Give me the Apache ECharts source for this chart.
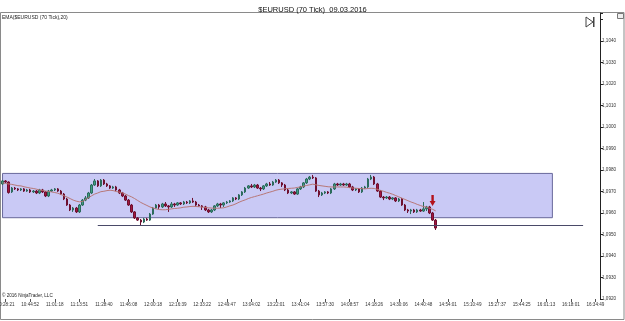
<!DOCTYPE html>
<html>
<head>
<meta charset="utf-8">
<script src="https://cdn.jsdelivr.net/npm/echarts@6/dist/echarts.min.js"></script>
<style>
html,body{margin:0;padding:0;background:#fff;}
#chart{width:625px;height:321px;}
</style>
</head>
<body>
<div id="chart"></div>
<script>
const titleText = '$EURUSD (70 Tick)  09.03.2016';
const indicatorText = 'EMA($EURUSD (70 Tick),20)';
const copyrightText = '\u00A9 2016 NinjaTrader, LLC';

const categoryCount = 195;
const categories = Array.from({length: categoryCount}, (_, i) => String(i));

const tickLabels = ['10:28:21','10:44:52','11:01:18','11:13:51','11:28:40','11:46:08','12:00:18','12:16:39','12:33:22','12:49:47','13:04:02','13:22:01','13:41:04','13:57:30','14:08:57','14:18:26','14:30:06','14:40:48','14:54:01','15:10:49','15:27:37','15:44:25','16:01:13','16:18:01','16:34:49'];

const opens = [
1.09735,1.09749,1.09744,1.09698,1.09716,1.09712,1.09707,1.09712,1.09702,1.09707,
1.09698,1.09702,1.09693,1.09707,1.09698,1.09679,1.09702,1.09707,1.09712,1.09702,
1.09688,1.09665,1.09637,1.09614,1.09623,1.09605,1.09637,1.09660,1.09670,1.09693,
1.09730,1.09749,1.09726,1.09753,1.09735,1.09726,1.09716,1.09721,1.09707,1.09693,
1.09679,1.09660,1.09637,1.09605,1.09577,1.09567,1.09558,1.09572,1.09567,1.09595,
1.09623,1.09637,1.09628,1.09642,1.09633,1.09628,1.09642,1.09637,1.09647,1.09642,
1.09651,1.09647,1.09656,1.09651,1.09637,1.09633,1.09628,1.09614,1.09605,1.09614,
1.09633,1.09642,1.09637,1.09647,1.09651,1.09656,1.09670,1.09665,1.09684,1.09698,
1.09716,1.09726,1.09721,1.09730,1.09716,1.09712,1.09726,1.09735,1.09730,1.09744,
1.09753,1.09740,1.09730,1.09707,1.09693,1.09698,1.09688,1.09712,1.09721,1.09740,
1.09758,1.09767,1.09763,1.09702,1.09684,1.09693,1.09698,1.09693,1.09712,1.09735,
1.09730,1.09735,1.09730,1.09735,1.09721,1.09707,1.09712,1.09698,1.09716,1.09721,
1.09758,1.09767,1.09735,1.09702,1.09674,1.09670,1.09674,1.09665,1.09670,1.09656,
1.09665,1.09637,1.09614,1.09609,1.09614,1.09605,1.09614,1.09609,1.09619,1.09628,
1.09600,1.09567];

const closes = [
1.09749,1.09744,1.09695,1.09716,1.09712,1.09707,1.09712,1.09702,1.09707,1.09698,
1.09702,1.09693,1.09707,1.09698,1.09679,1.09702,1.09707,1.09712,1.09702,1.09688,
1.09665,1.09637,1.09614,1.09623,1.09605,1.09637,1.09660,1.09670,1.09693,1.09730,
1.09749,1.09726,1.09753,1.09735,1.09726,1.09716,1.09721,1.09707,1.09693,1.09679,
1.09660,1.09637,1.09605,1.09577,1.09567,1.09558,1.09572,1.09567,1.09595,1.09623,
1.09637,1.09628,1.09642,1.09633,1.09628,1.09642,1.09637,1.09647,1.09642,1.09651,
1.09647,1.09656,1.09651,1.09637,1.09633,1.09628,1.09614,1.09605,1.09614,1.09633,
1.09642,1.09637,1.09647,1.09651,1.09656,1.09670,1.09665,1.09684,1.09698,1.09716,
1.09726,1.09721,1.09730,1.09716,1.09712,1.09726,1.09735,1.09730,1.09744,1.09753,
1.09740,1.09730,1.09707,1.09693,1.09698,1.09688,1.09712,1.09721,1.09740,1.09758,
1.09767,1.09763,1.09702,1.09684,1.09693,1.09698,1.09693,1.09712,1.09735,1.09730,
1.09735,1.09730,1.09735,1.09721,1.09707,1.09712,1.09698,1.09716,1.09721,1.09758,
1.09767,1.09735,1.09702,1.09674,1.09670,1.09674,1.09665,1.09670,1.09656,1.09665,
1.09637,1.09614,1.09609,1.09614,1.09605,1.09614,1.09609,1.09619,1.09628,1.09600,
1.09567,1.09530];

const lows = [
1.09730,1.09740,1.09690,1.09693,1.09707,1.09702,1.09702,1.09698,1.09698,1.09693,
1.09693,1.09688,1.09688,1.09693,1.09674,1.09674,1.09698,1.09702,1.09698,1.09684,
1.09660,1.09633,1.09609,1.09605,1.09600,1.09600,1.09633,1.09655,1.09665,1.09688,
1.09726,1.09721,1.09721,1.09730,1.09721,1.09712,1.09712,1.09702,1.09688,1.09674,
1.09656,1.09633,1.09600,1.09572,1.09563,1.09544,1.09553,1.09563,1.09563,1.09591,
1.09619,1.09619,1.09623,1.09628,1.09605,1.09623,1.09628,1.09633,1.09637,1.09637,
1.09642,1.09642,1.09647,1.09633,1.09628,1.09614,1.09609,1.09600,1.09600,1.09609,
1.09628,1.09623,1.09628,1.09642,1.09647,1.09651,1.09660,1.09660,1.09679,1.09693,
1.09712,1.09716,1.09716,1.09712,1.09702,1.09707,1.09721,1.09726,1.09726,1.09740,
1.09735,1.09721,1.09702,1.09688,1.09688,1.09684,1.09684,1.09707,1.09716,1.09735,
1.09753,1.09758,1.09698,1.09674,1.09679,1.09688,1.09688,1.09688,1.09707,1.09726,
1.09726,1.09726,1.09726,1.09716,1.09702,1.09702,1.09693,1.09693,1.09712,1.09716,
1.09753,1.09730,1.09698,1.09670,1.09660,1.09665,1.09660,1.09660,1.09651,1.09651,
1.09633,1.09609,1.09600,1.09595,1.09600,1.09600,1.09605,1.09605,1.09609,1.09595,
1.09563,1.09521];

const highs = [
1.09753,1.09753,1.09747,1.09721,1.09721,1.09716,1.09716,1.09716,1.09712,1.09712,
1.09707,1.09707,1.09712,1.09712,1.09702,1.09707,1.09712,1.09716,1.09716,1.09707,
1.09693,1.09670,1.09642,1.09628,1.09628,1.09642,1.09665,1.09679,1.09698,1.09735,
1.09758,1.09753,1.09758,1.09758,1.09740,1.09730,1.09726,1.09726,1.09712,1.09698,
1.09684,1.09665,1.09642,1.09609,1.09581,1.09572,1.09577,1.09577,1.09600,1.09628,
1.09642,1.09642,1.09647,1.09651,1.09637,1.09651,1.09647,1.09651,1.09651,1.09656,
1.09656,1.09660,1.09670,1.09656,1.09642,1.09637,1.09633,1.09619,1.09619,1.09637,
1.09647,1.09647,1.09651,1.09656,1.09660,1.09674,1.09674,1.09688,1.09702,1.09721,
1.09730,1.09735,1.09735,1.09735,1.09721,1.09730,1.09740,1.09744,1.09749,1.09758,
1.09758,1.09744,1.09735,1.09712,1.09702,1.09702,1.09716,1.09726,1.09744,1.09763,
1.09772,1.09777,1.09767,1.09707,1.09698,1.09702,1.09702,1.09716,1.09740,1.09740,
1.09740,1.09740,1.09740,1.09740,1.09726,1.09716,1.09716,1.09721,1.09726,1.09763,
1.09777,1.09772,1.09740,1.09707,1.09679,1.09679,1.09679,1.09674,1.09674,1.09670,
1.09670,1.09642,1.09619,1.09619,1.09619,1.09619,1.09619,1.09651,1.09633,1.09633,
1.09605,1.09572];

const ema = [
1.09740,1.09737,1.09735,1.09733,1.09730,1.09727,1.09726,1.09722,1.09719,1.09716,
1.09714,1.09711,1.09707,1.09705,1.09702,1.09700,1.09698,1.09695,1.09692,1.09686,
1.09680,1.09674,1.09667,1.09660,1.09655,1.09652,1.09653,1.09662,1.09671,1.09680,
1.09688,1.09693,1.09699,1.09701,1.09704,1.09706,1.09704,1.09700,1.09697,1.09694,
1.09688,1.09681,1.09675,1.09667,1.09658,1.09649,1.09642,1.09635,1.09628,1.09623,
1.09619,1.09616,1.09615,1.09615,1.09617,1.09619,1.09621,1.09622,1.09624,1.09627,
1.09628,1.09630,1.09631,1.09630,1.09629,1.09627,1.09626,1.09624,1.09623,1.09622,
1.09622,1.09623,1.09624,1.09628,1.09633,1.09637,1.09643,1.09650,1.09656,1.09661,
1.09667,1.09672,1.09676,1.09680,1.09684,1.09688,1.09693,1.09697,1.09701,1.09706,
1.09709,1.09711,1.09713,1.09714,1.09715,1.09716,1.09719,1.09721,1.09725,1.09728,
1.09731,1.09734,1.09731,1.09728,1.09726,1.09724,1.09722,1.09721,1.09721,1.09721,
1.09721,1.09721,1.09720,1.09718,1.09716,1.09715,1.09714,1.09713,1.09712,1.09714,
1.09715,1.09714,1.09710,1.09705,1.09701,1.09696,1.09692,1.09687,1.09681,1.09675,
1.09669,1.09663,1.09657,1.09651,1.09646,1.09640,1.09635,1.09630,1.09627,1.09622,
1.09617,1.09610];

// drawn objects
const zoneTop = 1.09784, zoneBottom = 1.09578, zoneStart = 0, zoneEnd = 179;
const supportLevel = 1.09544, supportStart = 31, supportEnd = 189;
const emaLast = 1.0961, priceLast = 1.0953;
const arrowIndex = 140, arrowValue = 1.09658;

const candleData = opens.map((o, i) => [o, closes[i], lows[i], highs[i]]);

const FONT = '"Liberation Sans", Arial, sans-serif';
const chart = echarts.init(document.getElementById('chart'), null, {renderer: 'canvas'});

chart.setOption({
  animation: false,
  backgroundColor: '#ffffff',
  title: {
    text: titleText, left: 'center', top: 1,
    textStyle: {fontSize: 7.5, fontWeight: 'normal', color: '#111', fontFamily: FONT}
  },
  grid: {left: 1, right: 25, top: 13, bottom: 22, containLabel: false, outerBoundsMode: 'none'},
  xAxis: {
    type: 'category',
    data: categories,
    boundaryGap: true,
    axisLine: {show: false},
    axisTick: {show: true, alignWithLabel: true, length: 3, interval: (idx) => idx % 8 === 1, lineStyle: {color: '#555'}},
    axisLabel: {
      interval: (idx) => idx % 8 === 1,
      formatter: (val, idx) => tickLabels[(idx - 1) / 8] || '',
      fontSize: 4.6, color: '#333', margin: 3, fontFamily: FONT, hideOverlap: false
    },
    splitLine: {show: false}
  },
  yAxis: {
    type: 'value',
    position: 'right',
    min: 1.0920, max: 1.1053, interval: 0.001,
    scale: true,
    axisLine: {show: true, lineStyle: {color: '#222', width: 1}},
    axisTick: {show: true, inside: false, length: 3, lineStyle: {color: '#222'}},
    axisLabel: {
      fontSize: 4.6, color: '#333', margin: 2, fontFamily: FONT,
      formatter: (v) => (v > 1.10455 ? '' : v.toFixed(4).replace('.', ','))
    },
    splitLine: {show: false}
  },
  series: [
    {
      type: 'candlestick',
      name: 'EURUSD',
      data: candleData,
      barWidth: 2,
      z: 2,
      itemStyle: {
        color: '#3f9e84', color0: '#a3153f',
        borderColor: '#2c6b5c', borderColor0: '#6e1030', borderWidth: 1
      },
      markArea: {
        silent: true,
        itemStyle: {color: '#c9c9f5', borderColor: '#68689a', borderWidth: 1},
        data: [[{coord: [zoneStart, zoneTop]}, {coord: [zoneEnd, zoneBottom]}]]
      },
      markPoint: {
        silent: true,
        symbol: 'path://M3,0 L7,0 L7,7 L10,7 L5,13 L0,7 L3,7 Z',
        symbolSize: [6, 11],
        itemStyle: {color: '#b3121c'},
        label: {show: false},
        data: [{coord: [arrowIndex, arrowValue]}]
      }
    },
    {
      type: 'line',
      name: 'EMA',
      data: ema,
      symbol: 'none',
      z: 3,
      lineStyle: {color: '#b87878', width: 1},
      markLine: {
        silent: true,
        symbol: 'none',
        animation: false,
        data: [
          [{coord: [supportStart, supportLevel], lineStyle: {color: '#4a4a68', width: 1, type: 'solid'}, label: {show: false}},
           {coord: [supportEnd, supportLevel]}],
          {
            yAxis: emaLast,
            lineStyle: {opacity: 0, width: 0},
            label: {show: true, position: 'end', distance: 2, formatter: emaLast.toFixed(4).replace('.', ','),
              backgroundColor: '#f0a428', color: '#111', fontSize: 4.6, padding: [1, 2], fontFamily: FONT}
          },
          {
            yAxis: priceLast,
            lineStyle: {opacity: 0, width: 0},
            label: {show: true, position: 'end', distance: 2, formatter: priceLast.toFixed(4).replace('.', ','),
              backgroundColor: '#000', color: '#fff', fontSize: 4.6, padding: [1, 2], fontFamily: FONT}
          }
        ]
      }
    }
  ],
  graphic: [
    {type: 'rect', silent: true, z: 0, shape: {x: 0.5, y: 12.5, width: 623.5, height: 307},
     style: {fill: 'none', stroke: '#8a8a8a', lineWidth: 1}},
    {type: 'text', silent: true, left: 2, top: 15, style: {text: indicatorText, fontSize: 5, fill: '#222', fontFamily: FONT}},
    {type: 'text', silent: true, left: 2, top: 293, style: {text: copyrightText, fontSize: 4.6, fill: '#222', fontFamily: FONT}},
    {type: 'polygon', silent: true, shape: {points: [[586, 17], [586, 27], [593, 22]]},
     style: {fill: '#fff', stroke: '#444', lineWidth: 1}},
    {type: 'rect', silent: true, shape: {x: 593, y: 17, width: 1.5, height: 10}, style: {fill: '#444'}},
    {type: 'rect', silent: true, shape: {x: 617.5, y: 13.5, width: 6, height: 5}, style: {fill: '#eee', stroke: '#777', lineWidth: 1}}
  ]
});
</script>
</body>
</html>
